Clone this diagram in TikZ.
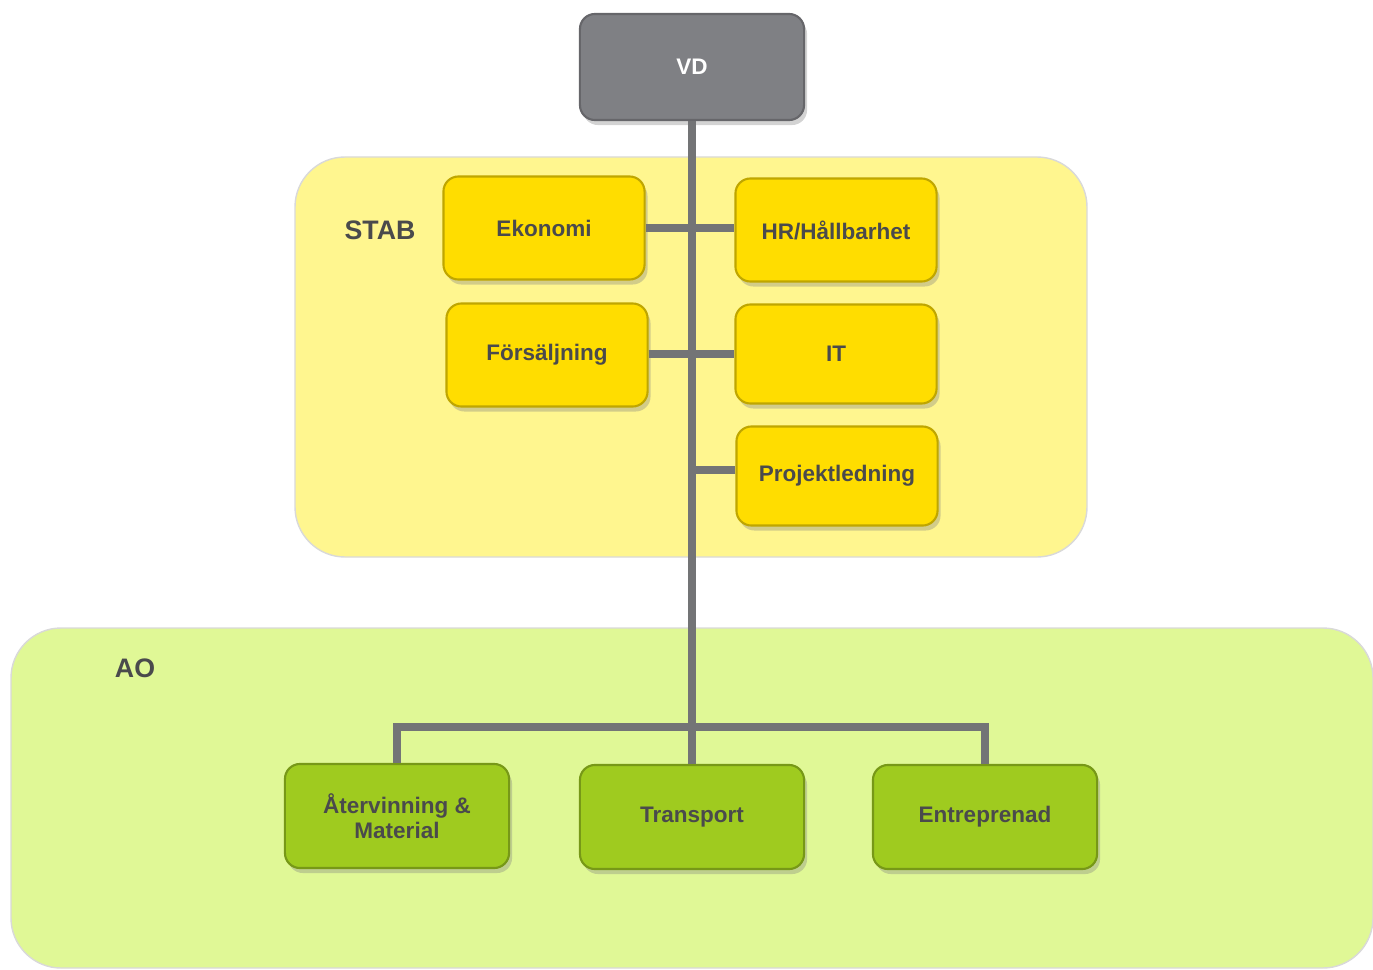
\documentclass[tikz,border=0pt]{standalone}
\usepackage{fontspec}
\setmainfont{Liberation Sans}
\usetikzlibrary{shadows}

\definecolor{stabbg}{HTML}{FFF68F}
\definecolor{aobg}{HTML}{E0F896}
\definecolor{boxgray}{HTML}{7F8084}
\definecolor{boxyellow}{HTML}{FFDD00}
\definecolor{boxgreen}{HTML}{9FCB1F}
\definecolor{linegray}{HTML}{737476}
\definecolor{textgray}{HTML}{4A4A4C}

\tikzset{
    unit/.style={draw, line width=0.6pt, rounded corners=0.15cm, align=center,
        font=\fontsize{6.4}{7.2}\selectfont\bfseries, text=textgray,
        drop shadow={shadow xshift=0.3mm, shadow yshift=-0.5mm, opacity=0.35}},
    stabunit/.style={unit, fill=boxyellow, draw=boxyellow!75!black,
        minimum width=2.01cm, minimum height=1.03cm},
    aounit/.style={unit, fill=boxgreen, draw=boxgreen!75!black,
        minimum width=2.24cm, minimum height=1.04cm},
    link/.style={draw=linegray, line width=2pt},
    grouplabel/.style={font=\fontsize{7.6}{9}\selectfont\bfseries, text=textgray}
}

\begin{document}
\begin{tikzpicture}[x=0.01cm, y=-0.01cm]
    \useasboundingbox (0,0) rectangle (1373,970);

    % STAB area
    \draw[fill=stabbg, draw=black!15, rounded corners=0.5cm] (295,157) rectangle (1087,557);
    \node[grouplabel] (stab) at (380,230) {STAB};

    % AO area
    \draw[fill=aobg, draw=black!15, rounded corners=0.5cm] (11,628) rectangle (1373,968);
    \node[grouplabel] (ao) at (135,668) {AO};

    % VD
    \node[unit, fill=boxgray, draw=boxgray!80!black, text=white,
        minimum width=2.24cm, minimum height=1.06cm] (vd) at (692,67) {VD};

    % Staff units
    \node[stabunit] (ekonomi) at (544,228) {Ekonomi};
    \node[stabunit] (hr) at (836,230) {HR/Hållbarhet};
    \node[stabunit] (forsaljning) at (547,355) {Försäljning};
    \node[stabunit, minimum height=0.99cm] (it) at (836,354) {IT};
    \node[stabunit, minimum height=0.99cm] (projekt) at (837,476) {Projektledning};

    % Business units
    \node[aounit] (atervinning) at (397,816) {Återvinning \&\\Material};
    \node[aounit] (transport) at (692,817) {Transport};
    \node[aounit] (entreprenad) at (985,817) {Entreprenad};

    % Lines
    \coordinate (bus) at (692,727);
    \draw[link] (vd.south) -- (transport.north);
    \draw[link] (ekonomi.east) -- (ekonomi.east -| hr.west);
    \draw[link] (forsaljning.east |- it.west) -- (it.west);
    \draw[link] ([yshift=0.06cm]projekt.west) -- ([yshift=0.06cm]projekt.west -| vd.south);
    \draw[link] (atervinning.north) |- (bus) -| (entreprenad.north);

\end{tikzpicture}
\end{document}
